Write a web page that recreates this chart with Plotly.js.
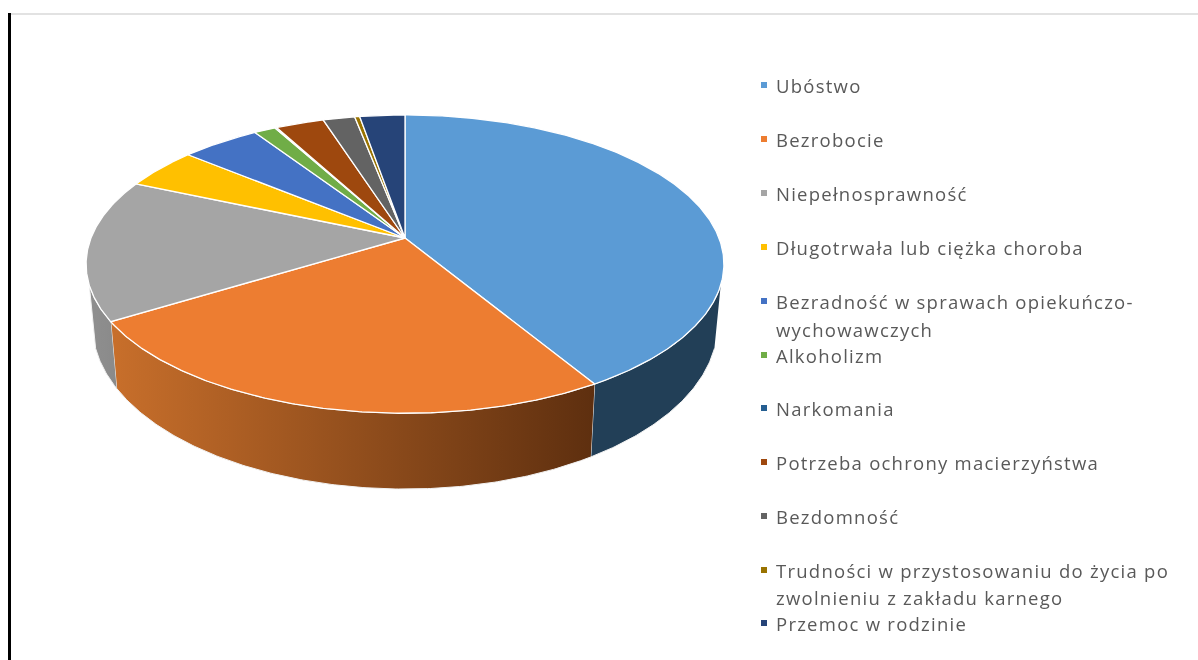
<!DOCTYPE html>
<html lang="pl"><head><meta charset="utf-8">
<script src="https://cdn.plot.ly/plotly-3.0.1.min.js"></script>
<style>html,body{margin:0;padding:0;background:#fff;overflow:hidden}#chart{width:1198px;height:660px;filter:blur(0.5px)}
.annotation-text{letter-spacing:1.25px}</style>
</head><body><div id="chart"></div>
<script>
// ---- data (share of cases, %) ----
const categories = ["Ubóstwo","Bezrobocie","Niepełnosprawność","Długotrwała lub ciężka choroba",
  "Bezradność w sprawach opiekuńczo-<br>wychowawczych","Alkoholizm","Narkomania",
  "Potrzeba ochrony macierzyństwa","Bezdomność",
  "Trudności w przystosowaniu do życia po<br>zwolnieniu z zakładu karnego","Przemoc w rodzinie"];
const shares = [41.3,24.7,15.3,4.5,4.7,1.3,0.1,2.9,1.9,0.3,2.7];
const colors = ["#5B9BD5","#ED7D31","#A5A5A5","#FFC000","#4472C4","#70AD47","#255E91","#9E480E","#636363","#997300","#264478"];
const wallColors = {0:["#223F57","#223F57"],1:["#5E2F0F","#C86F2B"],2:["#8A8A8A","#8F8F8F"]};

// ---- layout constants (pixels, the axes span the page 1:1) ----
const cx=405, cy=238, A=314, B=144.6, K=0.175;         // perspective disc
const depthF=1.098, depthD=58.6, depthX=0.98;          // lower rim of the disc
const frontFrom=108, frontTo=252;                      // visible wall, degrees clockwise from 12 o'clock
const legendY=[85,139,193,247,301,355,408,462,516,570,623];
const legendLineGap=[0,0,0,0,28,0,0,0,0,27,0];
const legendMarkX=764, legendTextX=776;

function rim(deg){const t=deg*Math.PI/180,c=Math.cos(t),s=Math.sin(t),w=1+K*c;
  return [cx+A*s/w, cy-B*c/w];}
function rimLow(deg){const p=rim(deg);return [cx+(p[0]-cx)*depthX, cy+(p[1]-cy)*depthF+depthD];}
function arc(fn,a,b){const out=[],n=Math.max(2,Math.ceil(Math.abs(b-a)/0.5));
  for(let i=0;i<=n;i++)out.push(fn(a+(b-a)*i/n));return out;}

const total=shares.reduce((a,b)=>a+b,0);
const traces=[]; let start=0; const edges=[];
shares.forEach((v,i)=>{const end=start+v/total*360;edges.push([start,end]);start=end;});

// side walls first
edges.forEach(([a,b],i)=>{
  const lo=Math.max(a,frontFrom),hi=Math.min(b,frontTo);
  if(hi<=lo)return;
  const pts=arc(rim,lo,hi).concat(arc(rimLow,hi,lo));
  const wc=wallColors[i];
  traces.push({type:'scatter',mode:'lines',x:pts.map(p=>p[0]),y:pts.map(p=>p[1]),fill:'toself',
    fillcolor:wc[0],fillgradient:{type:'horizontal',colorscale:[[0,wc[1]],[1,wc[0]]]},
    line:{color:'#F2F2F2',width:1},name:categories[i].replace('<br>',' '),hoverinfo:'name',showlegend:false});
});
// top face
edges.forEach(([a,b],i)=>{
  const pts=[[cx,cy]].concat(arc(rim,a,b),[[cx,cy]]);
  traces.push({type:'scatter',mode:'lines',x:pts.map(p=>p[0]),y:pts.map(p=>p[1]),fill:'toself',
    fillcolor:colors[i],line:{color:'#FFFFFF',width:1.3},
    name:categories[i].replace('<br>',' '),text:shares[i]+'%',hoverinfo:'name+text',showlegend:false});
});
// legend swatches
traces.push({type:'scatter',mode:'markers',x:categories.map(()=>legendMarkX),y:legendY,
  marker:{symbol:'square',size:6,color:colors},hoverinfo:'skip',showlegend:false});

const annotations=[];
categories.forEach((c,i)=>{c.split('<br>').forEach((ln,j)=>{
  annotations.push({x:legendTextX,y:legendY[i]+j*legendLineGap[i],xref:'x',yref:'y',text:ln,showarrow:false,
    xanchor:'left',yanchor:'middle',align:'left',xshift:-2,
    font:{family:'"Open Sans",sans-serif',size:18.5,color:'#595959'}});
});});

Plotly.newPlot('chart',traces,{
  width:1198,height:660,margin:{l:0,r:0,t:0,b:0},paper_bgcolor:'#fff',plot_bgcolor:'#fff',showlegend:false,
  xaxis:{range:[0,1198],visible:false,fixedrange:true},
  yaxis:{range:[660,0],visible:false,fixedrange:true},
  annotations:annotations,
  shapes:[
    {type:'line',xref:'x',yref:'y',x0:11,x1:1198,y0:14,y1:14,line:{color:'#D9D9D9',width:1.5},layer:'below'},
    {type:'line',xref:'x',yref:'y',x0:9.5,x1:9.5,y0:13,y1:660,line:{color:'#000',width:3},layer:'above'}
  ]
},{displayModeBar:false,staticPlot:false});
</script></body></html>
